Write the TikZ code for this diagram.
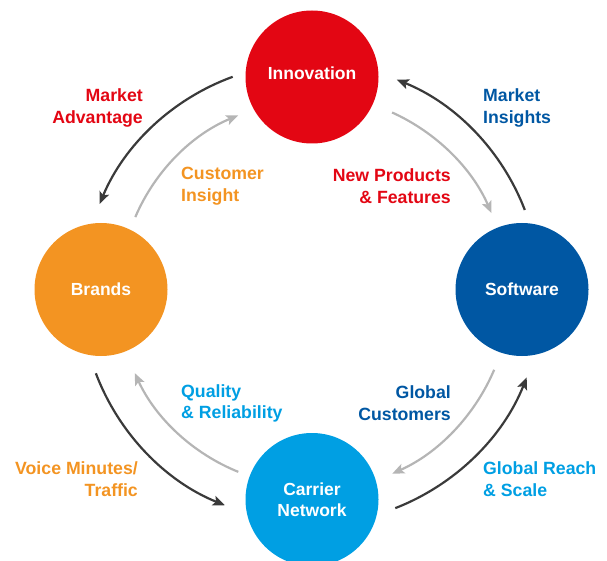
\documentclass[tikz,border=0pt]{standalone}
\usepackage{fontspec}
\setmainfont{Liberation Sans}
\usetikzlibrary{arrows.meta}
\definecolor{innoRed}{HTML}{E30613}
\definecolor{brandOrange}{HTML}{F39422}
\definecolor{softBlue}{HTML}{0057A3}
\definecolor{netBlue}{HTML}{009FE3}
\definecolor{darkFlow}{HTML}{3A3A3A}
\definecolor{lightFlow}{HTML}{B5B5B5}
\begin{document}
\begin{tikzpicture}[x=1pt,y=1pt,
  hub/.style={circle, minimum size=133pt, inner sep=0pt, text=white,
    font=\fontsize{17.5}{21.5}\selectfont\bfseries, align=center},
  lbl/.style={inner sep=0pt, font=\fontsize{17.7}{21.8}\selectfont\bfseries},
  tipshape/.style={-{Stealth[length=12pt,width=10pt,inset=2.5pt]}},
  flowout/.style={draw=darkFlow, line width=2.2pt, tipshape},
  flowin/.style={draw=lightFlow, line width=2.2pt, tipshape}]
\useasboundingbox (0,0) rectangle (607,560);
\coordinate (hubcenter) at (311,268);

% the four hubs
\node[hub, fill=innoRed] (inno) at (312,483) {\raisebox{8pt}{Innovation}};
\node[hub, fill=brandOrange] (brands) at (101,270.5) {Brands};
\node[hub, fill=softBlue] (soft) at (522,270.5) {Software};
\node[hub, fill=netBlue] (net) at (312,60.5) {Carrier\\Network};

% outer (dark) flows, counter-clockwise
\draw[flowout] (hubcenter) ++(21:229) arc[start angle=21, end angle=68, radius=229];
\draw[flowout] (hubcenter) ++(110:229) arc[start angle=110, end angle=157.4, radius=229];
\draw[flowout] (hubcenter) ++(200.7:230) arc[start angle=200.7, end angle=248, radius=230];
\draw[flowout] (hubcenter) ++(291.3:232) arc[start angle=291.3, end angle=338.4, radius=232];

% inner (light) flows, clockwise
\draw[flowin] (hubcenter) ++(65.7:197) arc[start angle=65.7, end angle=23.6, radius=197];
\draw[flowin] (hubcenter) ++(156.9:191) arc[start angle=156.9, end angle=112.4, radius=191];
\draw[flowin] (hubcenter) ++(248:194) arc[start angle=248, end angle=204.7, radius=194];
\draw[flowin] (hubcenter) ++(337:199) arc[start angle=337, end angle=294.1, radius=199];

% flow labels
\node[lbl, text=innoRed, align=right, anchor=east] (madv) at (143,452) {Market\\Advantage};
\node[lbl, text=softBlue, align=left, anchor=west] (mins) at (483,452) {Market\\Insights};
\node[lbl, text=brandOrange, align=left, anchor=west] (cins) at (181,374) {Customer\\Insight};
\node[lbl, text=innoRed, align=right, anchor=east] (nprod) at (451,374) {New Products\\\& Features};
\node[lbl, text=netBlue, align=left, anchor=west] (qual) at (181,156.5) {Quality\\\& Reliability};
\node[lbl, text=softBlue, align=right, anchor=east] (gcust) at (451,156.5) {Global\\Customers};
\node[lbl, text=brandOrange, align=right, anchor=east] (voice) at (138,80.5) {Voice Minutes/\\Traffic};
\node[lbl, text=netBlue, align=left, anchor=west] (greach) at (483,80.5) {Global Reach\\\& Scale};
\end{tikzpicture}
\end{document}
